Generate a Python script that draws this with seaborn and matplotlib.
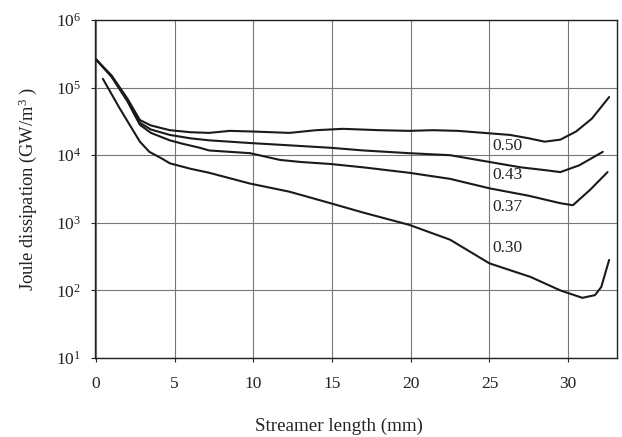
import matplotlib
matplotlib.use('Agg')
import matplotlib.pyplot as plt
import seaborn as sns
import pandas as pd

# curves: streamer length (mm), log10 of dissipation (GW/m^3)
x_050 = [0, 1, 2, 2.8, 3.5, 4.7, 6, 7.2, 8.5, 10, 12.3, 14, 15.7, 18, 19.9, 21.4, 23, 26.3, 27.5, 28.5, 29.5, 30.5, 31.5, 32.6]
lg_050 = [5.42, 5.18, 4.84, 4.52, 4.44, 4.37, 4.34, 4.33, 4.36, 4.35, 4.33, 4.37, 4.39, 4.37, 4.36, 4.37, 4.36, 4.30, 4.25, 4.20, 4.23, 4.35, 4.54, 4.86]

x_043 = [0, 1, 2, 2.8, 3.5, 4.7, 6, 7.2, 9.8, 12, 14.9, 17, 19.9, 22.5, 25, 27, 28.5, 29.5, 30.7, 32.2]
lg_043 = [5.42, 5.17, 4.82, 4.48, 4.38, 4.30, 4.25, 4.22, 4.18, 4.15, 4.11, 4.07, 4.03, 4.00, 3.90, 3.82, 3.78, 3.75, 3.85, 4.05]

x_037 = [0, 1, 2, 2.8, 3.5, 4.7, 5.5, 6.6, 7.2, 9.8, 11.7, 13, 14.9, 17, 19.9, 22.5, 25, 27.5, 29.5, 30.3, 31.4, 32.5]
lg_037 = [5.42, 5.16, 4.80, 4.45, 4.33, 4.22, 4.17, 4.11, 4.07, 4.03, 3.93, 3.90, 3.87, 3.82, 3.74, 3.65, 3.51, 3.40, 3.29, 3.26, 3.49, 3.75]

x_030 = [0.45, 1.5, 2.8, 3.4, 4.2, 4.7, 6, 7.2, 9.8, 12.3, 14.9, 17, 19.9, 22.5, 25, 27.6, 29.5, 30.9, 31.7, 32.1, 32.6]
lg_030 = [5.13, 4.70, 4.20, 4.05, 3.95, 3.88, 3.80, 3.74, 3.58, 3.46, 3.29, 3.15, 2.97, 2.75, 2.40, 2.20, 2.00, 1.89, 1.93, 2.05, 2.45]

curve_names = ['0.50', '0.43', '0.37', '0.30']
label_lg = [4.14, 3.71, 3.23, 2.63]
label_x = 25.2

sns.set_style('ticks')
plt.rcParams['font.family'] = ['Liberation Serif', 'DejaVu Serif']
plt.rcParams['mathtext.fontset'] = 'custom'
plt.rcParams['mathtext.rm'] = 'Liberation Serif'
plt.rcParams['mathtext.it'] = 'Liberation Serif:italic'

fig = plt.figure(figsize=(6.22, 4.37), dpi=100)
ax = fig.add_axes([95 / 622, 1 - 358 / 437, 522 / 622, 338 / 437])

frames = []
for name, xs, lgs in zip(curve_names, [x_050, x_043, x_037, x_030], [lg_050, lg_043, lg_037, lg_030]):
    frames.append(pd.DataFrame({'x': xs, 'y': [10 ** v for v in lgs], 'curve': name}))
df = pd.concat(frames)

for name in curve_names:
    sns.lineplot(data=df[df['curve'] == name], x='x', y='y', ax=ax, color='#1a1a1a',
                 lw=1.5, estimator=None, sort=False, legend=False)

ax.set_yscale('log')
ax.set_ylim(10, 1e6)
ax.set_xlim(-0.05, 33.1)
ax.set_xticks([0, 5, 10, 15, 20, 25, 30])
ax.minorticks_off()
ax.grid(True, which='major', color='#777777', lw=0.8)
for s in ax.spines.values():
    s.set_color('#222222')
    s.set_linewidth(1.0)
ax.tick_params(axis='both', length=3, color='#222222', labelsize=12.5, labelcolor='#222222')
ax.tick_params(axis='x', pad=10)
ax.tick_params(axis='y', pad=7)

for name, lg in zip(curve_names, label_lg):
    ax.text(label_x, 10 ** lg, name, ha='left', va='center', fontsize=12.5, color='#222222')

ax.set_xlabel('Streamer length (mm)', fontsize=13.7, color='#222222')
ax.set_ylabel('Joule dissipation (GW/m$^{3}$ )', fontsize=13.3, color='#222222')
ax.xaxis.set_label_coords((339 - 95) / 522, -(426 - 358) / 338)
ax.yaxis.set_label_coords((28 - 95) / 522, 0.5)
ax.xaxis.label.set_va('center')
ax.yaxis.label.set_va('center')

fig.savefig('out.png', dpi=100)
